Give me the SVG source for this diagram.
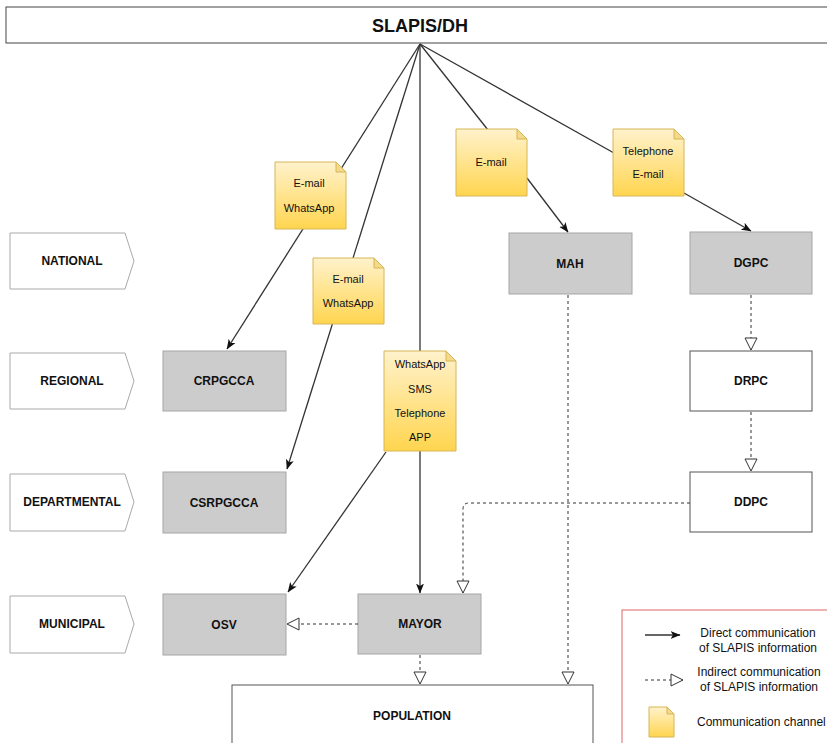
<svg xmlns="http://www.w3.org/2000/svg" width="827" height="743" viewBox="0 0 827 743">
<style>
text{font-family:"Liberation Sans",Arial,sans-serif;fill:#111}
.lbl{font-size:12px;font-weight:bold;text-anchor:middle}
.nt{font-size:11px;text-anchor:middle}
.lg{font-size:12px;text-anchor:middle}
.lane{fill:#fff;stroke:#aaa;stroke-width:1}
.gray{fill:#cccccc;stroke:#a6a6a6;stroke-width:1}
.white{fill:#fff;stroke:#555;stroke-width:1}
.note{fill:url(#ng);stroke:#d6b656;stroke-width:1}
.fold{fill:#f5d98a;stroke:#d6b656;stroke-width:1}
.solid{fill:none;stroke:#333;stroke-width:1.3;marker-end:url(#arr)}
.plain{fill:none;stroke:#333;stroke-width:1.3}
.dash{fill:none;stroke:#333;stroke-width:1;stroke-dasharray:3 3;marker-end:url(#tri)}
</style>
<defs>
<linearGradient id="ng" x1="0" y1="0" x2="0" y2="1">
<stop offset="0" stop-color="#fff2cc"/>
<stop offset="1" stop-color="#ffd54f"/>
</linearGradient>
<marker id="arr" viewBox="0 0 10 10" refX="9.5" refY="5" markerWidth="10" markerHeight="10" markerUnits="userSpaceOnUse" orient="auto">
<path d="M0,1 L10,5 L0,9 L2.5,5 Z" fill="#111"/>
</marker>
<marker id="tri" viewBox="0 0 14 14" refX="13" refY="7" markerWidth="14" markerHeight="14" markerUnits="userSpaceOnUse" orient="auto">
<path d="M1,1 L13,7 L1,13 Z" fill="#fff" stroke="#333" stroke-width="1"/>
</marker>
</defs>
<rect width="827" height="743" fill="#fff"/>

<g id="title">
<rect x="6" y="7" width="830" height="36" fill="#fff" stroke="#444" stroke-width="1"/>
<text x="420" y="32" style="font-size:18px;font-weight:bold;text-anchor:middle">SLAPIS/DH</text>
</g>

<g id="lane-national"><path class="lane" d="M10,233 L125,233 L134,261 L125,289 L10,289 Z"/><text class="lbl" x="72" y="265">NATIONAL</text></g>
<g id="lane-regional"><path class="lane" d="M10,353 L125,353 L134,381 L125,409 L10,409 Z"/><text class="lbl" x="72" y="385">REGIONAL</text></g>
<g id="lane-departmental"><path class="lane" d="M10,474 L125,474 L134,502 L125,531 L10,531 Z"/><text class="lbl" x="72" y="506">DEPARTMENTAL</text></g>
<g id="lane-municipal"><path class="lane" d="M10,596 L125,596 L134,624 L125,653 L10,653 Z"/><text class="lbl" x="72" y="628">MUNICIPAL</text></g>

<g id="crpgcca"><rect class="gray" x="163" y="351" width="123" height="60"/><text class="lbl" x="224" y="385">CRPGCCA</text></g>
<g id="csrpgcca"><rect class="gray" x="163" y="472" width="123" height="61"/><text class="lbl" x="224" y="507">CSRPGCCA</text></g>
<g id="osv"><rect class="gray" x="163" y="594" width="123" height="61"/><text class="lbl" x="224" y="629">OSV</text></g>
<g id="mayor"><rect class="gray" x="358" y="594" width="123" height="60"/><text class="lbl" x="420" y="628">MAYOR</text></g>
<g id="mah"><rect class="gray" x="509" y="233" width="123" height="61"/><text class="lbl" x="570" y="268">MAH</text></g>
<g id="dgpc"><rect class="gray" x="690" y="232" width="122" height="62"/><text class="lbl" x="751" y="267">DGPC</text></g>
<g id="drpc"><rect class="white" x="690" y="351" width="122" height="60"/><text class="lbl" x="751" y="385">DRPC</text></g>
<g id="ddpc"><rect class="white" x="690" y="472" width="122" height="60"/><text class="lbl" x="751" y="506">DDPC</text></g>
<g id="population"><rect class="white" x="232" y="685" width="361" height="80"/><text class="lbl" x="412" y="720">POPULATION</text></g>

<g id="connectors">
<path class="solid" d="M420,44 L227,349"/>
<path class="solid" d="M420,44 L287,469"/>
<path class="solid" d="M420,44 L420,593"/>
<path class="solid" d="M386,452 L288,592"/>
<path class="plain" d="M420,44 L488,130"/>
<path class="solid" d="M527,178 L568,232"/>
<path class="plain" d="M420,44 L614,153"/>
<path class="solid" d="M684,193 L751,231"/>
<path class="dash" d="M568,295 L568,684"/>
<path class="dash" d="M751,295 L751,350"/>
<path class="dash" d="M751,412 L751,471"/>
<path class="dash" d="M690,503 L469,503 Q463,503 463,509 L463,593"/>
<path class="dash" d="M358,624 L287,624"/>
<path class="dash" d="M420,655 L420,684"/>
</g>

<g id="note1"><path class="note" d="M275,162 L336,162 L346,172 L346,229 L275,229 Z"/><path class="fold" d="M336,162 L336,172 L346,172 Z"/><text class="nt" x="309" y="187">E-mail</text><text class="nt" x="309" y="212">WhatsApp</text></g>
<g id="note2"><path class="note" d="M313,258 L374,258 L384,268 L384,324 L313,324 Z"/><path class="fold" d="M374,258 L374,268 L384,268 Z"/><text class="nt" x="348" y="283">E-mail</text><text class="nt" x="348" y="307">WhatsApp</text></g>
<g id="note3"><path class="note" d="M384,351 L446,351 L456,361 L456,451 L384,451 Z"/><path class="fold" d="M446,351 L446,361 L456,361 Z"/><text class="nt" x="420" y="368">WhatsApp</text><text class="nt" x="420" y="393">SMS</text><text class="nt" x="420" y="417">Telephone</text><text class="nt" x="420" y="441">APP</text></g>
<g id="note4"><path class="note" d="M456,129 L517,129 L527,139 L527,196 L456,196 Z"/><path class="fold" d="M517,129 L517,139 L527,139 Z"/><text class="nt" x="491" y="166">E-mail</text></g>
<g id="note5"><path class="note" d="M613,129 L674,129 L684,139 L684,196 L613,196 Z"/><path class="fold" d="M674,129 L674,139 L684,139 Z"/><text class="nt" x="648" y="155">Telephone</text><text class="nt" x="648" y="178">E-mail</text></g>

<g id="legend">
<rect x="622" y="610" width="220" height="150" fill="#fff" stroke="#e06666" stroke-width="1"/>
<path class="solid" d="M645,635 L680,635"/>
<text class="lg" x="758" y="637">Direct communication</text>
<text class="lg" x="758" y="652">of SLAPIS information</text>
<path class="dash" d="M645,680 L683,680"/>
<text class="lg" x="759" y="676">Indirect communication</text>
<text class="lg" x="759" y="691">of SLAPIS information</text>
<path class="note" d="M649,707 L667,707 L674,714 L674,737 L649,737 Z"/>
<path class="fold" d="M667,707 L667,714 L674,714 Z"/>
<text x="697" y="726" style="font-size:12px">Communication channel</text>
</g>
</svg>
